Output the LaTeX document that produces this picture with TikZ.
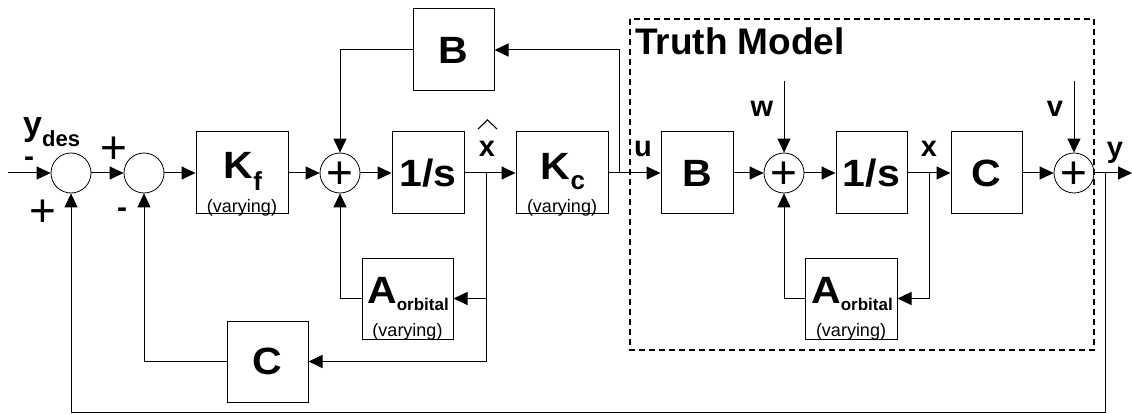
\documentclass[tikz,border=0pt]{standalone}
\usepackage{fontspec}
\setmainfont{Liberation Sans}
\newfontfamily\bfam[FakeStretch=1.08]{Liberation Sans Bold}
\newfontfamily\bsmall{Liberation Sans Bold}
\usetikzlibrary{arrows.meta}
\newcommand{\subf}{\fontsize{26}{26}\selectfont\bsmall}
\newcommand{\orbf}{\fontsize{17}{17}\selectfont\bsmall}
\newcommand{\desf}{\fontsize{22}{22}\selectfont\bsmall}
\tikzset{
  blk/.style={draw, line width=1pt, inner sep=0pt, minimum width=#1, minimum height=82pt},
  sumj/.style={draw, circle, line width=0.8pt, minimum size=40pt, inner sep=0pt},
  big/.style={font=\fontsize{38}{38}\selectfont\bfam, inner sep=0pt},
  sml/.style={font=\fontsize{29}{29}\selectfont\bsmall, inner sep=0pt},
  vary/.style={font=\fontsize{18}{18}\selectfont, inner sep=0pt},
  plussign/.style={font=\fontsize{46}{46}\selectfont, inner sep=0pt},
  minussign/.style={font=\fontsize{30}{30}\selectfont\bsmall, inner sep=0pt},
  title/.style={font=\fontsize{37}{37}\selectfont\bsmall, inner sep=0pt},
  sig/.style={-{Triangle[length=14pt,width=13pt]}, line width=1pt},
  truthbox/.style={line width=1.4pt, dash pattern=on 6pt off 4pt},
}
\begin{document}
\begin{tikzpicture}[x=1pt,y=-1pt]
\useasboundingbox (0,0) rectangle (1132,414);

% summing junctions
\node[sumj] (c1) at (71,173) {};
\node[sumj] (c2) at (144,173) {};
\node[sumj] (s1) at (340,173) {};
\node[sumj] (s2) at (784,173) {};
\node[sumj] (s3) at (1074,173) {};
\node[plussign] (p1) at ([yshift=-2.5pt]s1.center) {+};
\node[plussign] (p2) at ([yshift=-2.5pt]s2.center) {+};
\node[plussign] (p3) at ([yshift=-2.5pt]s3.center) {+};

% blocks
\node[blk=92pt] (kf) at (242,173) {};
\node[blk=72pt, big] (is1) at (428,173) {1/s};
\node[blk=92pt] (kc) at (562,173) {};
\node[blk=81pt, big] (bt) at (453.5,50) {B};
\node[blk=72pt, big] (b2) at (697,173) {B};
\node[blk=71pt, big] (is2) at (871.5,173) {1/s};
\node[blk=71pt, big] (cc) at (986.5,173) {C};
\node[blk=91pt, minimum height=81pt] (ao1) at (407.5,298.5) {};
\node[blk=92pt, minimum height=81pt] (ao2) at (851,298.5) {};
\node[blk=81pt, minimum height=81pt, big] (cb) at (267.5,361.5) {C};

% block texts
\node[big, anchor=base] (kft) at (243,179) {K\raisebox{-12pt}{\subf f}};
\node[vary, anchor=base] (kfv) at (242,212) {(varying)};
\node[big, anchor=base] (kct) at (563,180) {K\raisebox{-10pt}{\subf c}};
\node[vary, anchor=base] (kcv) at (562,212) {(varying)};
\node[big, anchor=base] (ao1t) at (408,303) {A\raisebox{-7pt}{\orbf orbital}};
\node[vary, anchor=base] (ao1v) at (407.5,336) {(varying)};
\node[big, anchor=base] (ao2t) at (852,303) {A\raisebox{-7pt}{\orbf orbital}};
\node[vary, anchor=base] (ao2v) at (851,336) {(varying)};

% truth model
\draw[truthbox] (630,19) rectangle (1094,350);
\node[title, anchor=base west] (tm) at (635,55) {Truth Model};

% coordinates
\coordinate (in) at (8,173);
\coordinate (xh) at (486,173);
\coordinate (uu) at (619,173);
\coordinate (xb) at (929,173);
\coordinate (yb) at (1105,173);
\coordinate (yd) at (1105,412);
\coordinate (out) at (1132,173);
\coordinate (wt) at (784,81);
\coordinate (vt) at (1074,81);

% signals
\draw[sig] (in) -- (c1);
\draw[sig] (c1) -- (c2);
\draw[sig] (c2) -- (kf);
\draw[sig] (kf) -- (s1);
\draw[sig] (s1) -- (is1);
\draw[sig] (is1) -- (kc);
\draw[sig] (kc) -- (b2);
\draw[sig] (uu) |- (bt);
\draw[sig] (bt) -| (s1);
\draw[sig] (xh) |- (cb);
\draw[sig] (xh |- ao1) -- (ao1);
\draw[sig] (ao1) -| (s1);
\draw[sig] (cb) -| (c2);
\draw[sig] (b2) -- (s2);
\draw[sig] (s2) -- (is2);
\draw[sig] (is2) -- (cc);
\draw[sig] (cc) -- (s3);
\draw[sig] (s3) -- (out);
\draw[sig] (wt) -- (s2);
\draw[sig] (vt) -- (s3);
\draw[sig] (xb) |- (ao2);
\draw[sig] (ao2) -| (s2);
\draw[sig] (yb) -- (yd) -| (c1);

% signal labels
\node[sml, anchor=base west, font=\fontsize{34}{34}\selectfont\bsmall] (lyd) at (23,136) {y\raisebox{-11pt}{\desf des}};
\node[minussign] (m1) at (29,161.5) {-};
\node[plussign] (pl1) at (114,150) {+};
\node[plussign] (pl2) at (43,213.5) {+};
\node[minussign] (m2) at (122,213) {-};
\node[sml, anchor=base] (lxh) at (487,157) {x};
\draw[line width=1.1pt] (478,129) -- (487.5,120) -- (497,129);
\node[sml, anchor=base] (lu) at (643,157) {u};
\node[sml, anchor=base] (lw) at (762,117) {w};
\node[sml, anchor=base] (lv) at (1055,117) {v};
\node[sml, anchor=base] (lx) at (929,157) {x};
\node[sml, anchor=base] (ly) at (1115,158) {y};
\end{tikzpicture}
\end{document}
